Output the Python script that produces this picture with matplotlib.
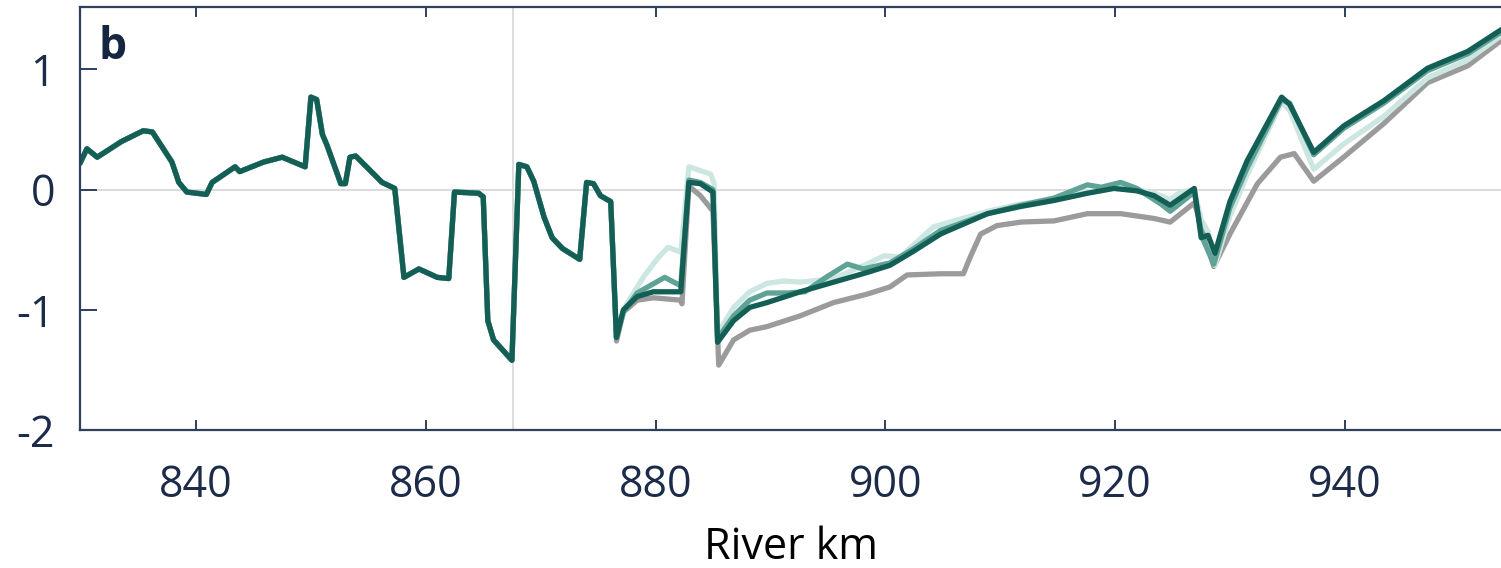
import matplotlib

matplotlib.use("Agg")
import matplotlib.pyplot as plt
import numpy as np

NAVY = "#1c2b4a"
SPINE = "#2f3f5c"

plt.rcParams.update({
    "font.family": ["Open Sans", "DejaVu Sans"],
    "axes.edgecolor": SPINE,
    "axes.linewidth": 1.6,
    "xtick.color": SPINE,
    "ytick.color": SPINE,
    "xtick.labelcolor": NAVY,
    "ytick.labelcolor": NAVY,
    "text.color": NAVY,
})

# --------------------------------------------------------------------------- #
# water-level difference along the river (m)                                   #
# upstream reach is identical for every scenario                               #
# --------------------------------------------------------------------------- #
km_up = [829.9, 830.5, 831.4, 833.5, 835.4, 836.2, 837.9, 838.5, 839.2, 840.9,
         841.4, 843.4, 843.8, 845.9, 847.5, 849.5, 850.0, 850.5, 851.0, 851.4,
         852.6, 853.0, 853.4, 853.9, 856.2, 857.3, 858.1, 859.4, 861.0, 862.0,
         862.5, 864.6, 865.0, 865.4, 865.9, 867.5, 868.1, 868.8, 869.4, 870.3,
         871.0, 871.9, 873.4, 874.0, 874.6, 875.2, 876.1]
wl_up = [0.22, 0.34, 0.27, 0.40, 0.49, 0.48, 0.23, 0.06, -0.02, -0.04,
         0.06, 0.19, 0.15, 0.23, 0.27, 0.19, 0.77, 0.75, 0.46, 0.37,
         0.05, 0.05, 0.27, 0.28, 0.06, 0.01, -0.73, -0.66, -0.73, -0.74,
         -0.02, -0.03, -0.06, -1.09, -1.25, -1.42, 0.21, 0.19, 0.07, -0.23,
         -0.40, -0.49, -0.58, 0.06, 0.05, -0.05, -0.10]

# downstream reach, one pair of arrays per scenario
km_ref = [876.6, 877.2, 878.4, 879.8, 882.2, 882.3, 882.9, 883.9, 884.5, 885.0,
          885.5, 886.8, 888.2, 889.7, 892.6, 895.5, 898.4, 900.4, 901.9, 904.8,
          906.8, 907.4, 908.3, 909.7, 911.8, 914.7, 917.6, 920.5, 923.4, 924.8,
          926.9, 928.6, 930.0, 932.4, 934.4, 935.6, 937.3, 939.9, 943.4, 947.2,
          950.7, 953.6]
wl_ref = [-1.26, -1.02, -0.92, -0.90, -0.92, -0.95, 0.03, -0.05, -0.12, -0.18,
          -1.46, -1.25, -1.17, -1.14, -1.05, -0.94, -0.87, -0.81, -0.71, -0.70,
          -0.70, -0.56, -0.37, -0.30, -0.27, -0.26, -0.20, -0.20, -0.24, -0.27,
          -0.11, -0.64, -0.37, 0.05, 0.27, 0.30, 0.07, 0.27, 0.55, 0.89,
          1.03, 1.24]

km_s1 = [876.6, 877.5, 879.0, 880.2, 881.1, 882.2, 882.9, 884.8, 885.1, 885.4,
         886.8, 888.2, 889.7, 891.2, 892.6, 895.5, 898.4, 899.9, 901.3, 904.2,
         906.0, 908.9, 911.8, 914.7, 917.6, 920.5, 923.4, 924.8, 925.7, 926.9,
         927.5, 928.1, 928.7, 930.0, 931.5, 934.5, 935.2, 937.3, 939.9, 943.4,
         947.2, 950.7, 953.6]
wl_s1 = [-1.20, -0.95, -0.72, -0.57, -0.48, -0.52, 0.19, 0.13, 0.05, -1.20,
         -0.98, -0.85, -0.78, -0.76, -0.77, -0.74, -0.62, -0.55, -0.56, -0.31,
         -0.26, -0.18, -0.12, -0.08, -0.02, 0.03, -0.03, -0.08, -0.02, 0.00,
         -0.25, -0.35, -0.63, -0.22, 0.12, 0.73, 0.66, 0.17, 0.38, 0.61,
         0.93, 1.08, 1.28]

km_s2 = [876.6, 877.2, 878.4, 880.8, 882.2, 882.9, 883.9, 885.0, 885.4, 886.8,
         888.2, 889.7, 891.5, 893.0, 895.0, 896.7, 898.1, 900.4, 902.5, 904.8,
         906.0, 908.9, 911.8, 914.7, 917.6, 918.8, 920.5, 921.9, 924.0, 924.8,
         926.9, 927.6, 928.6, 930.0, 931.5, 934.5, 935.2, 937.3, 939.9, 943.4,
         947.2, 950.7, 953.6]
wl_s2 = [-1.23, -1.02, -0.86, -0.73, -0.80, 0.08, 0.06, 0.00, -1.24, -1.05,
         -0.92, -0.86, -0.86, -0.85, -0.72, -0.62, -0.66, -0.61, -0.49, -0.34,
         -0.30, -0.20, -0.13, -0.07, 0.04, 0.02, 0.06, 0.01, -0.12, -0.18,
         -0.02, -0.40, -0.62, -0.15, 0.18, 0.75, 0.72, 0.29, 0.51, 0.72,
         0.99, 1.13, 1.31]

km_s3 = [876.6, 877.2, 878.4, 879.8, 882.2, 882.9, 883.9, 885.0, 885.4, 886.8,
         888.2, 889.7, 892.6, 895.5, 898.4, 900.4, 902.5, 904.8, 906.0, 908.9,
         911.8, 914.7, 917.6, 919.9, 921.9, 923.4, 924.8, 926.9, 927.5, 928.1,
         928.7, 930.0, 931.5, 934.5, 935.2, 937.3, 939.9, 943.4, 947.2, 950.7,
         953.6]
wl_s3 = [-1.23, -1.00, -0.89, -0.85, -0.85, 0.06, 0.05, -0.02, -1.27, -1.09,
         -0.98, -0.94, -0.85, -0.77, -0.69, -0.63, -0.51, -0.37, -0.32, -0.20,
         -0.14, -0.09, -0.03, 0.01, -0.01, -0.05, -0.13, 0.01, -0.40, -0.38,
         -0.53, -0.10, 0.24, 0.77, 0.71, 0.31, 0.53, 0.74, 1.01, 1.15,
         1.33]

series = [
    (km_ref, wl_ref, "#9b9b9b"),
    (km_s1, wl_s1, "#cce6e2"),
    (km_s2, wl_s2, "#5fa396"),
    (km_s3, wl_s3, "#145f55"),
]

fig = plt.figure(figsize=(15.01, 5.68), dpi=100)
ax = fig.add_axes([0.0533, 0.243, 0.9467, 0.7447])

ax.axhline(0, color="#d9d9d9", lw=1.3, zorder=0)
ax.axvline(867.55, color="#d9d9d9", lw=1.3, zorder=0)

for km, wl, col in series:
    x = np.concatenate([km_up, km])
    y = np.concatenate([wl_up, wl])
    ax.plot(x, y, color=col, lw=3.8, solid_joinstyle="round",
            solid_capstyle="round", zorder=2)

ax.set_xlim(829.9, 953.6)
ax.set_ylim(-2, 1.52)
ax.set_xticks([840, 860, 880, 900, 920, 940])
ax.set_yticks([-2, -1, 0, 1])
ax.set_yticklabels(["-2", "-1", "0", "1"])

ax.spines["right"].set_visible(False)
ax.tick_params(axis="x", direction="in", length=7, width=1.4, top=True,
               labelsize=31, pad=24)
ax.tick_params(axis="y", direction="in", length=12, width=1.4,
               labelsize=31, pad=18)

ax.set_xlabel("River km", fontsize=31, va="center")
ax.xaxis.set_label_coords(0.5, -0.279)

ax.text(0.013, 0.957, "b", transform=ax.transAxes, fontsize=32,
        fontweight="bold", color="#142640", va="top", ha="left")

fig.savefig("out.png", dpi=100)
